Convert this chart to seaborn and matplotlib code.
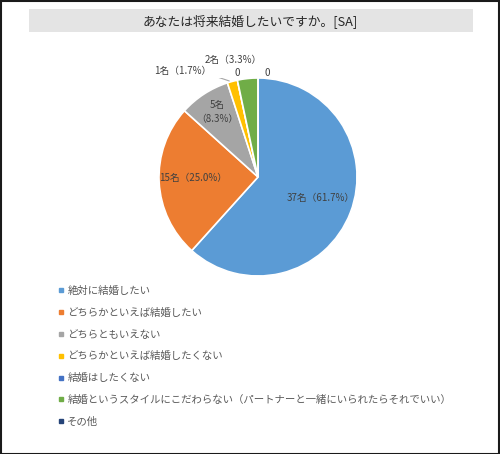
import matplotlib
matplotlib.use("Agg")
import matplotlib.pyplot as plt
from matplotlib.patches import Rectangle
from matplotlib.lines import Line2D
import numpy as np
import seaborn as sns

# ---- data ----
title = "あなたは将来結婚したいですか。[SA]"
categories = [
    "絶対に結婚したい",
    "どちらかといえば結婚したい",
    "どちらともいえない",
    "どちらかといえば結婚したくない",
    "結婚はしたくない",
    "結婚というスタイルにこだわらない（パートナーと一緒にいられたらそれでいい）",
    "その他",
]
counts = [37, 15, 5, 1, 0, 2, 0]
percents = [61.7, 25.0, 8.3, 1.7, 0.0, 3.3, 0.0]
colors = ["#5B9BD5", "#ED7D31", "#A5A5A5", "#FFC000", "#4472C4", "#70AD47", "#264478"]

sns.set_theme(style="white")
plt.rcParams["font.family"] = ["Noto Sans CJK JP", "DejaVu Sans"]
palette = sns.color_palette(colors)

fig = plt.figure(figsize=(5.0, 4.54), dpi=100)
W, H = 500, 454

# outer frame
fig.patches.append(Rectangle((0.5 / W, 0.5 / H), 1 - 1.5 / W, 1 - 1.5 / H, transform=fig.transFigure,
                             fill=False, edgecolor="#1a1a1a", linewidth=1.5))
# title band
fig.patches.append(Rectangle((29 / W, 1 - 32 / H), 444 / W, 23 / H, transform=fig.transFigure,
                             facecolor="#E4E4E4", edgecolor="none"))
fig.text(250 / W, 1 - 21 / H, title, ha="center", va="center", fontsize=9.2, color="#262626")

# pie axes: center (258,177), radius 99 px
cx, cy, r = 258, 177, 99
ax = fig.add_axes([(cx - r) / W, 1 - (cy + r) / H, 2 * r / W, 2 * r / H])
wedges, _ = ax.pie(counts, colors=palette, startangle=90, counterclock=False, radius=1,
                   wedgeprops=dict(edgecolor="white", linewidth=1.2))
ax.set_xlim(-1, 1)
ax.set_ylim(-1, 1)
ax.set_aspect("auto")
ax.axis("off")

def lab(i):
    if counts[i] == 0:
        return "0"
    return f"{counts[i]}名（{percents[i]:.1f}%）"

# label positions (data coords of the pie axes)
label_pos = {
    0: (0.63, -0.21),
    1: (-0.66, -0.01),
    2: (-0.41, 0.66),
    3: (-0.76, 1.07),
    4: (-0.21, 1.05),
    5: (-0.25, 1.18),
    6: (0.09, 1.05),
}
txtc = "#404040"
for i, (x, y) in label_pos.items():
    t = lab(i)
    if i == 2:
        t = f"{counts[i]}名\n（{percents[i]:.1f}%）"
    ax.text(x, y, t, ha="center", va="center", fontsize=7, color=txtc, linespacing=1.5)

# leader lines
ax.add_line(Line2D([-0.47, -0.29], [1.03, 0.97], color="#A6A6A6", lw=0.8))
ax.add_line(Line2D([-0.09, -0.09], [1.10, 1.02], color="#A6A6A6", lw=0.8))

# legend
handles = [Line2D([0], [0], marker="s", linestyle="none", markersize=3.5,
                  markerfacecolor=c, markeredgecolor=c) for c in colors]
fig.legend(handles, categories, loc="upper left", bbox_to_anchor=(58 / W, 1 - 286 / H),
           frameon=False, fontsize=7.5, labelcolor="#595959", handlelength=0.6,
           handletextpad=0.3, labelspacing=1.13, borderaxespad=0, borderpad=0)

fig.savefig("out.png", dpi=100, facecolor="white")
